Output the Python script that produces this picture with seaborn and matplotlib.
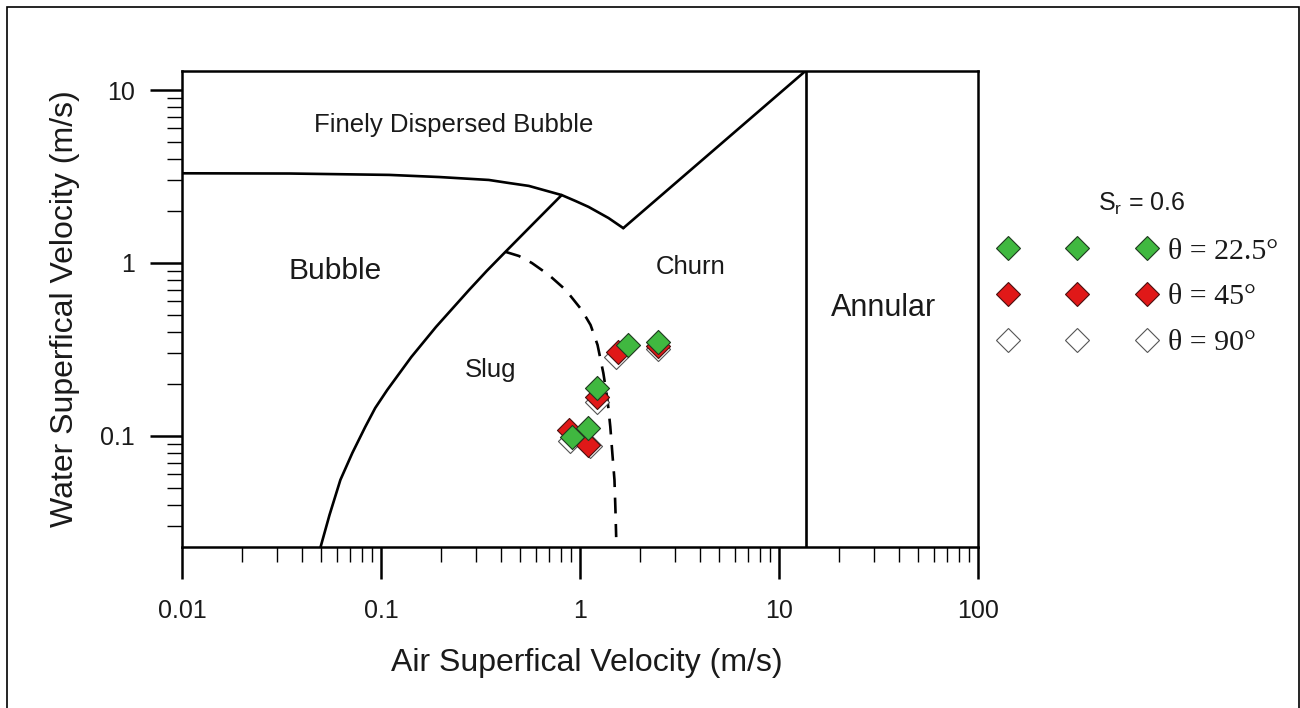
import numpy as np
import pandas as pd
import matplotlib
matplotlib.use("Agg")
import matplotlib.pyplot as plt
import seaborn as sns
from matplotlib.lines import Line2D
from matplotlib.patches import Rectangle
from matplotlib.ticker import FixedLocator, FixedFormatter, LogLocator, NullFormatter
from matplotlib.font_manager import FontProperties

# ---------------- data ----------------
series_labels = ["θ = 22.5°", "θ = 45°", "θ = 90°"]

# measured points (air superficial velocity, water superficial velocity)
g225_x = [0.908, 1.10, 1.22, 1.75, 2.48]
g225_y = [0.0986, 0.111, 0.189, 0.336, 0.349]
g45_x = [0.877, 1.10, 1.22, 1.56, 2.48]
g45_y = [0.108, 0.0887, 0.168, 0.306, 0.331]
g90_x = [0.89, 1.12, 1.22, 1.52, 2.48]
g90_y = [0.0935, 0.087, 0.157, 0.286, 0.318]

# flow-regime boundaries
disp_x = [0.01, 0.0348, 0.110, 0.196, 0.348, 0.439, 0.553, 0.681, 0.809, 0.951, 1.104, 1.39, 1.65]
disp_y = [3.30, 3.29, 3.23, 3.14, 3.02, 2.90, 2.79, 2.61, 2.47, 2.28, 2.11, 1.82, 1.59]
churn_x = [1.65, 13.6]
churn_y = [1.59, 12.9]
annular_x = [13.6, 13.6]
annular_y = [0.02, 13.0]
slug_x = [0.809, 0.586, 0.422, 0.340, 0.277, 0.2275, 0.189, 0.142, 0.1075, 0.0935,
          0.0833, 0.0718, 0.0625, 0.0551, 0.0497, 0.0488]
slug_y = [2.47, 1.70, 1.16, 0.90, 0.698, 0.542, 0.427, 0.286, 0.1845, 0.145,
          0.1127, 0.0798, 0.0557, 0.0349, 0.0228, 0.0205]
dash_x = [0.422, 0.493, 0.573, 0.697, 0.848, 1.02, 1.13, 1.225, 1.31, 1.375, 1.42,
          1.456, 1.49, 1.507, 1.52]
dash_y = [1.16, 1.098, 1.00, 0.853, 0.698, 0.535, 0.438, 0.336, 0.231, 0.1615, 0.113,
          0.0777, 0.0557, 0.0373, 0.026]

x_ticks = [0.01, 0.1, 1, 10, 100]
x_ticklabels = ["0.01", "0.1", "1", "10", "100"]
y_ticks = [0.1, 1, 10]
y_ticklabels = ["0.1", "1", "10"]

regions = ["Finely Dispersed Bubble", "Bubble", "Slug", "Churn", "Annular"]
region_x = [0.233, 0.059, 0.356, 3.58, 33.5]
region_y = [6.28, 0.90, 0.241, 0.948, 0.55]
region_size = [18.5, 21.5, 18.5, 18.5, 22]

# ---------------- style ----------------
sns.set_theme(style="ticks")
plt.rcParams['font.family'] = ['Liberation Sans', 'DejaVu Sans']
plt.rcParams['mathtext.fontset'] = 'custom'
plt.rcParams['mathtext.rm'] = 'Liberation Sans'
plt.rcParams['mathtext.it'] = 'Liberation Sans:italic'
plt.rcParams['text.color'] = '#1a1a1a'
plt.rcParams['axes.labelcolor'] = '#1a1a1a'
plt.rcParams['xtick.color'] = 'black'
plt.rcParams['ytick.color'] = 'black'
plt.rcParams['xtick.labelcolor'] = '#1a1a1a'
plt.rcParams['ytick.labelcolor'] = '#1a1a1a'

W, H = 1300, 708
fig = plt.figure(figsize=(W / 100, H / 100), dpi=100)
fig.patch.set_facecolor('white')
ax = fig.add_axes([182 / W, 1 - 547 / H, 796 / W, 476 / H])
ax.set_facecolor('white')
ax.set_xscale('log')
ax.set_yscale('log')

lw = 1.9
sns.lineplot(x=disp_x, y=disp_y, sort=False, estimator=None, color='black', lw=lw, ax=ax)
sns.lineplot(x=churn_x, y=churn_y, sort=False, estimator=None, color='black', lw=lw, ax=ax)
sns.lineplot(x=annular_x, y=annular_y, sort=False, estimator=None, color='black', lw=lw, ax=ax)
sns.lineplot(x=slug_x, y=slug_y, sort=False, estimator=None, color='black', lw=lw, ax=ax)
sns.lineplot(x=dash_x, y=dash_y, sort=False, estimator=None, color='black', lw=lw,
             linestyle=(0, (6, 4)), ax=ax)

face = {"θ = 22.5°": "#40b840", "θ = 45°": "#e01818", "θ = 90°": "white"}
edge = {"θ = 22.5°": "#1f3a1f", "θ = 45°": "#4a1010", "θ = 90°": "#555555"}
xs = {"θ = 22.5°": g225_x, "θ = 45°": g45_x, "θ = 90°": g90_x}
ys = {"θ = 22.5°": g225_y, "θ = 45°": g45_y, "θ = 90°": g90_y}

for lab in series_labels[::-1]:
    sns.scatterplot(x=xs[lab], y=ys[lab], marker='D', s=150, color=face[lab],
                    edgecolor=edge[lab], linewidth=0.8, legend=False, ax=ax, zorder=3)

for t, x, y, fs in zip(regions, region_x, region_y, region_size):
    ax.text(x, y, t, ha='center', va='center', fontsize=fs, color='#1a1a1a')

ax.set_xlim(0.01, 100)
ax.set_ylim(0.0228, 12.88)

ax.xaxis.set_major_locator(FixedLocator(x_ticks))
ax.xaxis.set_major_formatter(FixedFormatter(x_ticklabels))
ax.yaxis.set_major_locator(FixedLocator(y_ticks))
ax.yaxis.set_major_formatter(FixedFormatter(y_ticklabels))
ax.xaxis.set_minor_locator(LogLocator(base=10, subs=np.arange(2, 10), numticks=20))
ax.yaxis.set_minor_locator(LogLocator(base=10, subs=np.arange(2, 10), numticks=20))
ax.xaxis.set_minor_formatter(NullFormatter())
ax.yaxis.set_minor_formatter(NullFormatter())

ax.tick_params(which='major', direction='out', length=23, width=1.8, labelsize=18, pad=11)
ax.tick_params(axis='x', which='major', pad=14.5)
ax.tick_params(which='minor', direction='out', length=11, width=1.0)
ax.tick_params(top=False, right=False, which='both')

for sp in ax.spines.values():
    sp.set_visible(True)
    sp.set_color('black')
    sp.set_linewidth(1.8)

ax.set_xlabel("Air Superfical Velocity (m/s)", fontsize=23)
ax.set_ylabel("Water Superfical Velocity (m/s)", fontsize=23)
ax.xaxis.set_label_coords(0.5 + 7 / 796, -101 / 476)
ax.yaxis.set_label_coords((80 - 182) / 796, 0.5)

# legend
handles = [Line2D([], [], ls='', marker='D', markersize=12.2,
                  markerfacecolor=face[l], markeredgecolor=edge[l], markeredgewidth=0.8)
           for l in series_labels]
leg = fig.legend(handles, series_labels, prop=FontProperties(family='Liberation Serif', size=21.5),
                 numpoints=3, handlelength=5.25, handletextpad=0.4, labelspacing=0.63,
                 frameon=False, borderpad=0, borderaxespad=0, loc='center left',
                 bbox_to_anchor=(999 / W, 1 - 297 / H), bbox_transform=fig.transFigure)
fig.text(1142 / W, 1 - 204 / H, r'S$_\mathrm{r}$ = 0.6', ha='center', va='center', fontsize=18)

# figure frame
fig.add_artist(Rectangle((7 / W, -0.02), (1298.5 - 7) / W, 1 - 7 / H + 0.02, fill=False,
                         lw=1.2, edgecolor='black', transform=fig.transFigure))

fig.savefig("out.png", dpi=100, facecolor='white')
